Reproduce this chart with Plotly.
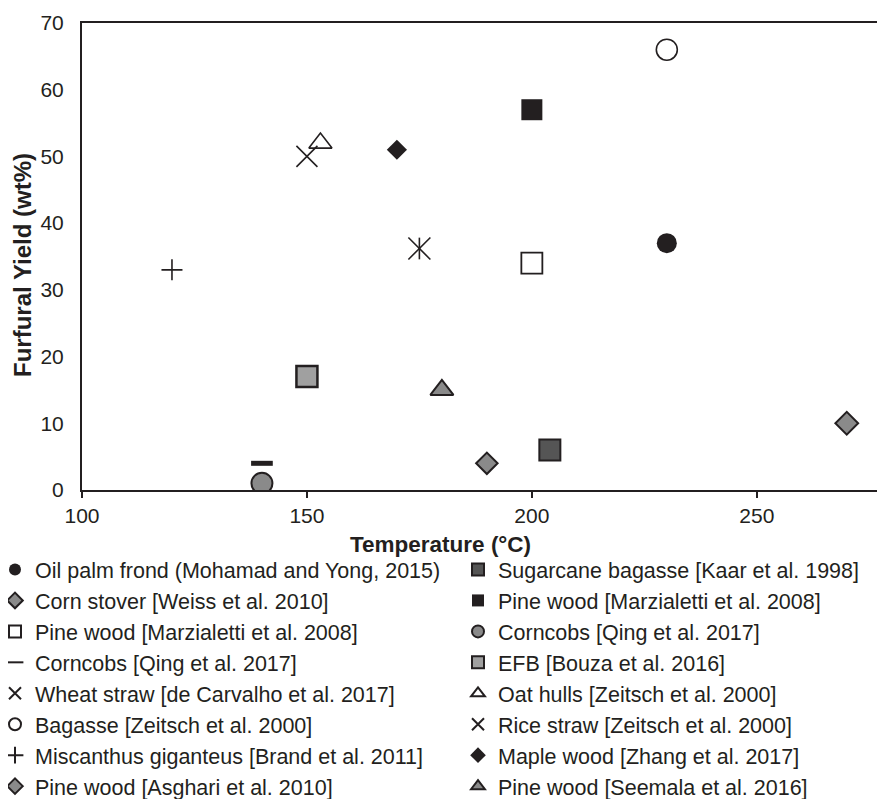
import plotly.graph_objects as go

# ---- data ----
names = [
    "Oil palm frond (Mohamad and Yong, 2015)",
    "Corn stover [Weiss et al. 2010]",
    "Pine wood [Marzialetti et al. 2008]",
    "Corncobs [Qing et al. 2017]",
    "Wheat straw [de Carvalho et al. 2017]",
    "Bagasse [Zeitsch et al. 2000]",
    "Miscanthus giganteus [Brand et al. 2011]",
    "Pine wood [Asghari et al. 2010]",
    "Sugarcane bagasse [Kaar et al. 1998]",
    "Pine wood [Marzialetti et al. 2008]",
    "Corncobs [Qing et al. 2017]",
    "EFB [Bouza et al. 2016]",
    "Oat hulls [Zeitsch et al. 2000]",
    "Rice straw [Zeitsch et al. 2000]",
    "Maple wood [Zhang et al. 2017]",
    "Pine wood [Seemala et al. 2016]",
]
temperature = [230, 190, 200, 140, 175, 230, 120, 270,
               204, 200, 140, 150, 153, 150, 170, 180]
yield_wt = [37, 4, 34, 4, 36.2, 66, 33, 10,
            6, 57, 1, 17, 52, 50, 51, 15]

x_ticks = [100, 150, 200, 250]
y_ticks = [0, 10, 20, 30, 40, 50, 60, 70]

# ---- styles ----
INK = "#231f20"
FONT = "Liberation Sans, Arial, sans-serif"
styles = [
    dict(symbol="circle", size=20, color=INK, line=dict(width=0)),
    dict(symbol="diamond", size=16.5, color="#8a8a8a", line=dict(color=INK, width=2)),
    dict(symbol="square-open", size=21, color=INK, line=dict(color=INK, width=1.8)),
    dict(symbol="line-ew-open", size=15.5, color=INK, line=dict(color=INK, width=5)),
    dict(symbol="x-thin-open", size=22, color=INK, line=dict(color=INK, width=1.6)),
    dict(symbol="circle-open", size=21, color=INK, line=dict(color=INK, width=1.6)),
    dict(symbol="cross-thin-open", size=15, color=INK, line=dict(color=INK, width=1.6)),
    dict(symbol="diamond", size=17.5, color="#8a8a8a", line=dict(color=INK, width=2)),
    dict(symbol="square", size=21, color="#555555", line=dict(color=INK, width=2)),
    dict(symbol="square", size=21, color=INK, line=dict(width=0)),
    dict(symbol="circle", size=21, color="#8a8a8a", line=dict(color=INK, width=2)),
    dict(symbol="square", size=21, color="#a0a0a0", line=dict(color=INK, width=2.5)),
    dict(symbol="triangle-up-open", size=20, color=INK, line=dict(color=INK, width=1.6)),
    dict(symbol="x-thin-open", size=21, color=INK, line=dict(color=INK, width=1.6)),
    dict(symbol="diamond", size=15.5, color=INK, line=dict(width=0)),
    dict(symbol="triangle-up", size=20, color="#8a8a8a", line=dict(color=INK, width=2)),
]
legend_of = ["legend"] * 8 + ["legend2"] * 8

fig = go.Figure()
for i in range(len(names)):
    fig.add_trace(go.Scatter(
        x=[temperature[i]], y=[yield_wt[i]], mode="markers",
        name=names[i], marker=styles[i], legend=legend_of[i],
        showlegend=True,
    ))
# vertical stroke of the wheat-straw asterisk
fig.add_trace(go.Scatter(
    x=[temperature[4]], y=[yield_wt[4]], mode="markers", showlegend=False,
    marker=dict(symbol="line-ns-open", size=15.5, color=INK,
                line=dict(color=INK, width=1.6)),
))

axis_common = dict(showgrid=False, zeroline=False, showline=True,
                   linecolor=INK, linewidth=2,
                   tickfont=dict(family=FONT, size=21, color=INK))
fig.update_xaxes(range=[100, 278.5], tickvals=x_ticks, ticks="outside",
                 ticklen=6, tickwidth=1.5, tickcolor=INK, mirror=True,
                 **axis_common)
fig.update_yaxes(range=[0, 70], tickvals=y_ticks, ticks="",
                 ticklabelstandoff=12, **axis_common)

# figure is drawn 8 px inside the page (body margin), so size it 877x791
W, H = 877, 791
ML, MT, MR, MB = 74, 15, 0, 309
PW, PH = W - ML - MR, H - MT - MB
legend_top = 541
legend_y = (H - MB - legend_top) / PH

legend_common = dict(orientation="v", xref="paper", yref="paper",
                     yanchor="top", xanchor="left", bgcolor="rgba(0,0,0,0)",
                     font=dict(family=FONT, size=21.5, color=INK),
                     itemsizing="constant", tracegroupgap=0)
fig.update_layout(
    width=W, height=H,
    margin=dict(l=ML, r=MR, t=MT, b=MB, autoexpand=False),
    paper_bgcolor="white", plot_bgcolor="white",
    font=dict(family=FONT, color=INK),
    legend=dict(x=(-13 - ML) / PW, y=legend_y, **legend_common),
    legend2=dict(x=(450 - ML) / PW, y=legend_y, **legend_common),
    annotations=[
        dict(text="<b>Temperature (°C)</b>", xref="paper", yref="paper",
             x=(440 - 82) / PW, y=0, yshift=-54, showarrow=False,
             xanchor="center", yanchor="middle",
             font=dict(family=FONT, size=22.5, color=INK)),
        dict(text="<b>Furfural Yield (wt%)</b>", xref="paper", yref="paper",
             x=0, xshift=-60, y=(490 - 265) / (490 - 23), showarrow=False,
             textangle=-90, xanchor="center", yanchor="middle",
             font=dict(family=FONT, size=24, color=INK)),
    ],
)

fig.write_html("out.html")
